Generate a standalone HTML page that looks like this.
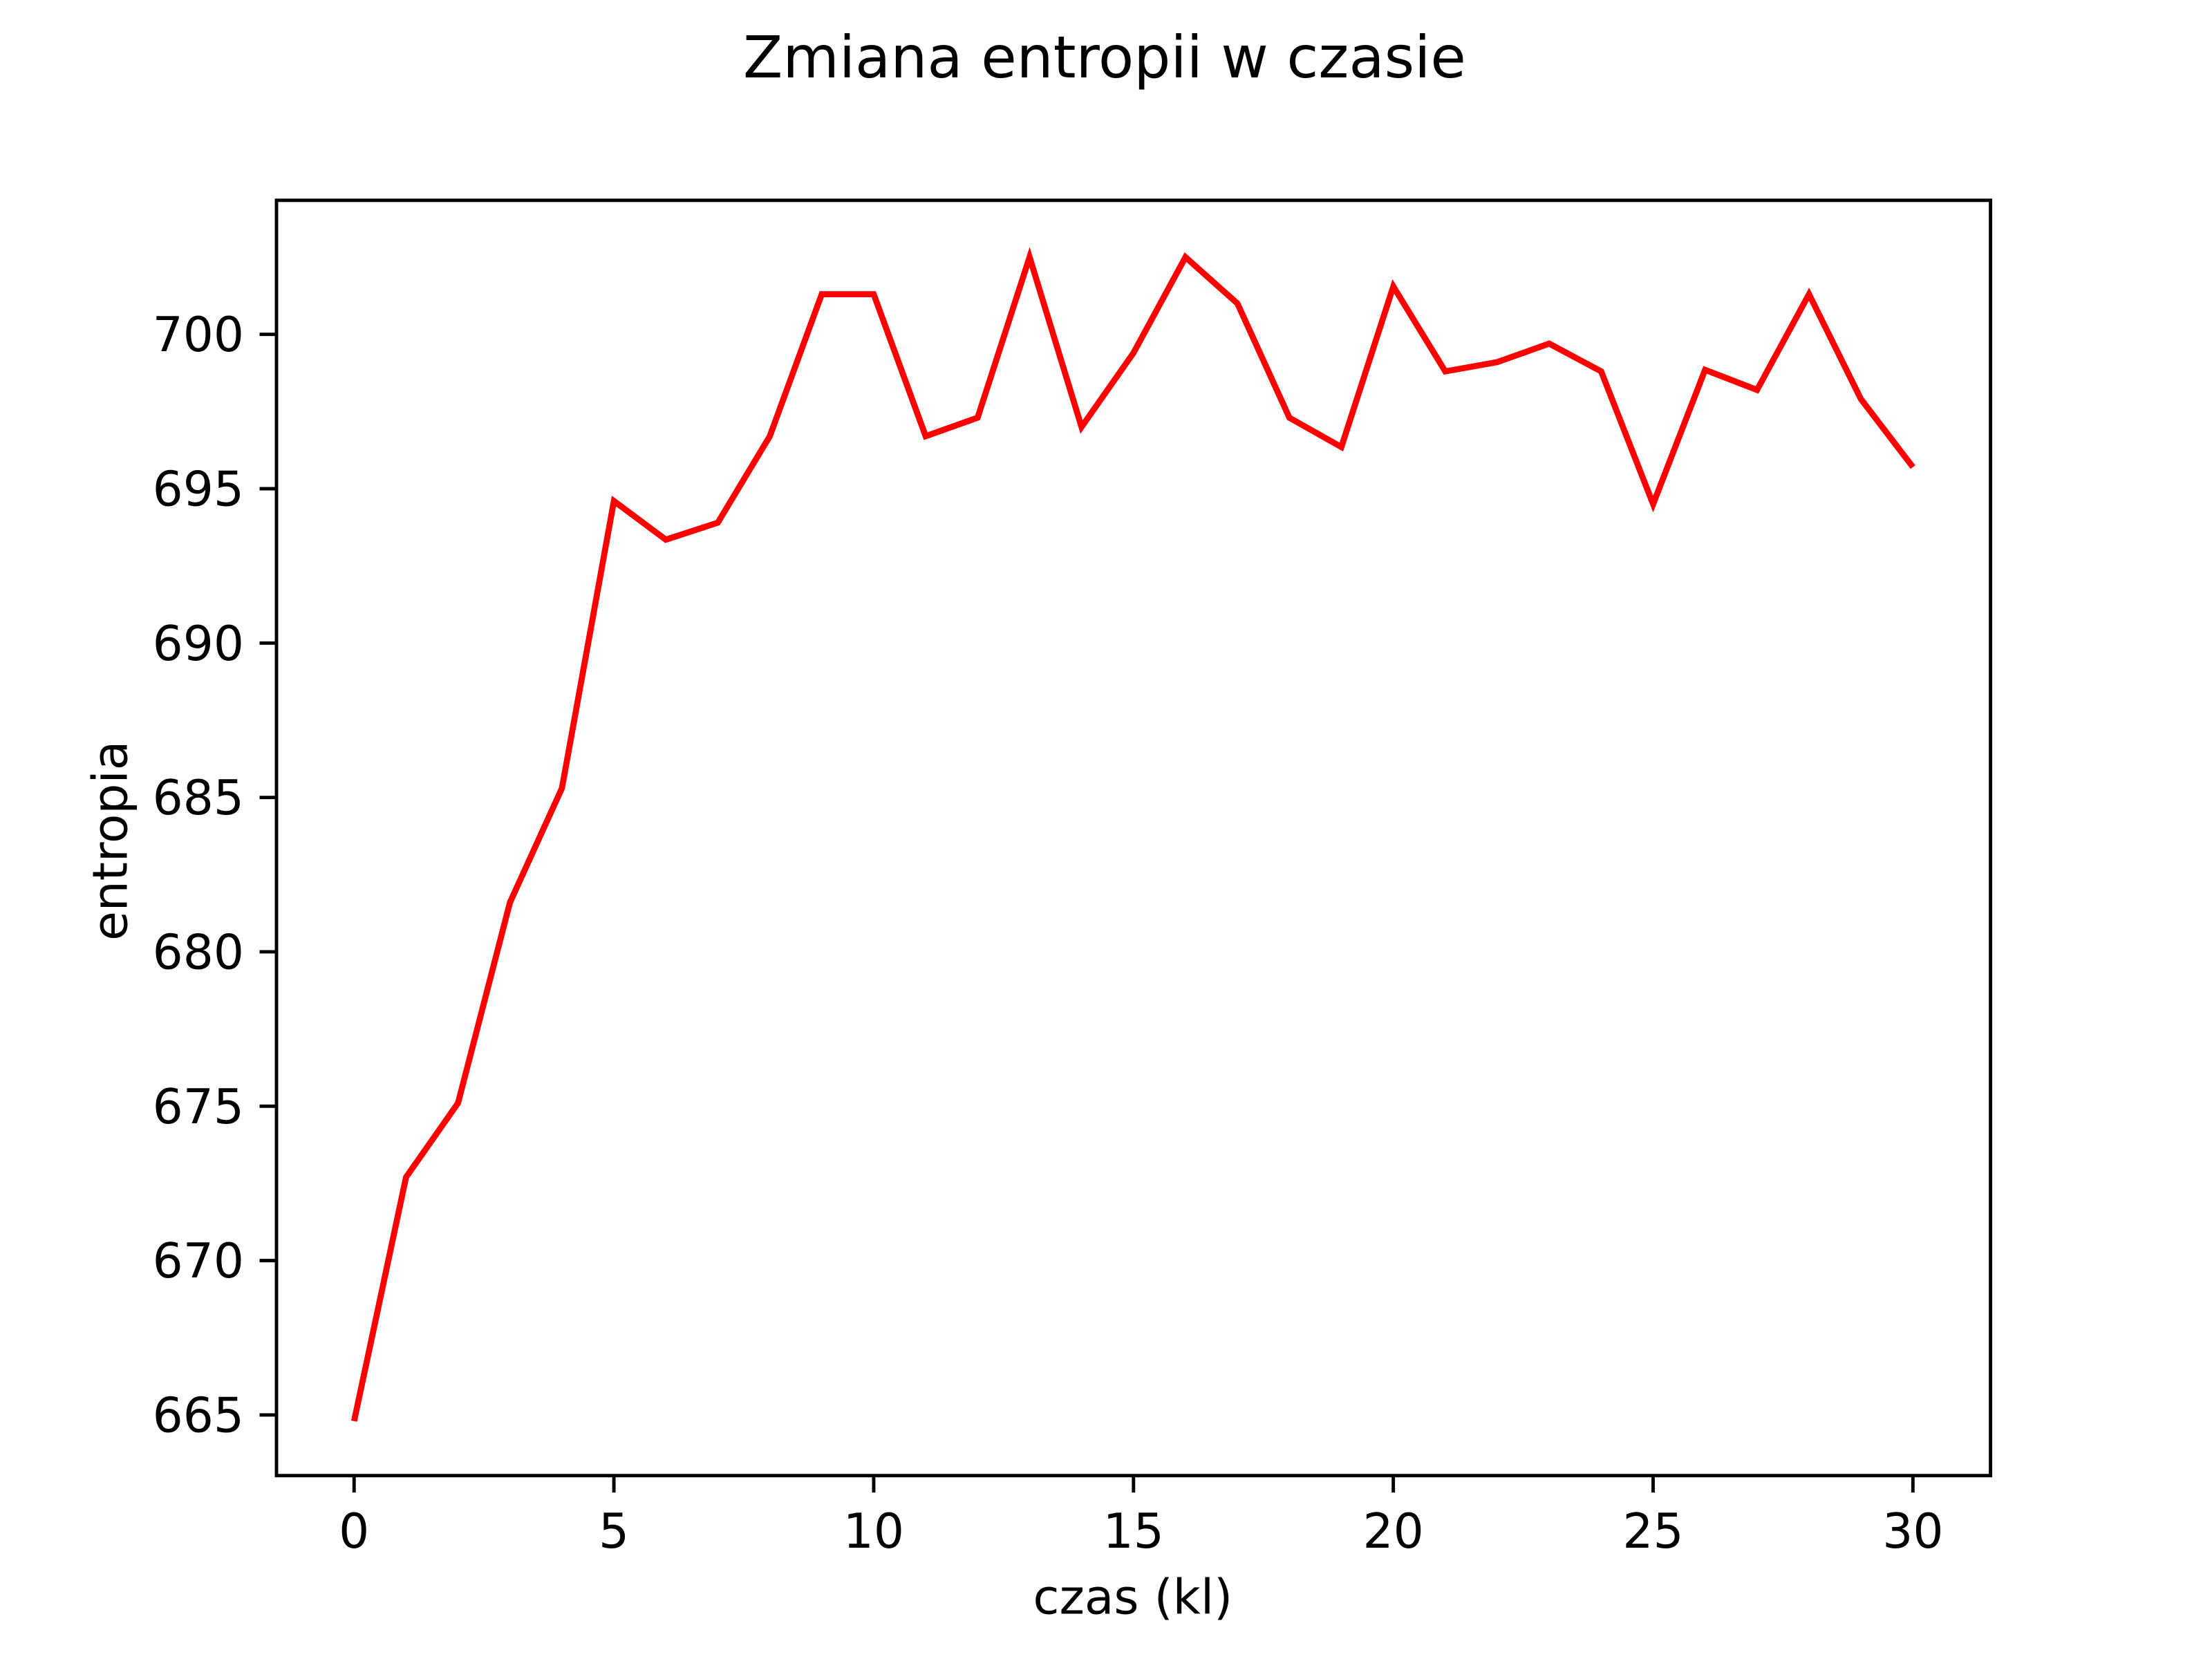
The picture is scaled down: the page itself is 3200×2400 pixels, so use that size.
<!DOCTYPE html>
<html><head><meta charset="utf-8"><style>
html,body{margin:0;padding:0;background:#fff;}
svg{display:block;}
text{font-family:"DejaVu Sans","Liberation Sans",sans-serif;fill:#000;}
</style></head><body>
<svg id="chart" width="3200" height="2400" viewBox="0 0 1568 1176" xmlns="http://www.w3.org/2000/svg">
<rect x="0" y="0" width="1568" height="1176" fill="#fff"/>
<text x="783" y="55" font-size="41" text-anchor="middle">Zmiana entropii w czasie</text>
<g id="plot"></g>
<g id="xticks"></g>
<g id="yticks"></g>
<rect x="196" y="142" width="1215" height="904" fill="none" stroke="#000" stroke-width="2.4"/>
<text x="803" y="1144" font-size="34" text-anchor="middle">czas (kl)</text>
<text x="0" y="0" font-size="34" text-anchor="middle" transform="translate(90,596) rotate(-90)">entropia</text>
</svg>
<script>
const times = [0,1,2,3,4,5,6,7,8,9,10,11,12,13,14,15,16,17,18,19,20,21,22,23,24,25,26,27,28,29,30];
const entropy = [664.8,672.7,675.1,681.6,685.3,694.6,693.35,693.9,696.7,701.3,701.3,696.7,697.3,702.5,697.0,699.4,702.5,701.0,697.3,696.35,701.55,698.8,699.1,699.7,698.8,694.5,698.85,698.2,701.3,697.9,695.7];
const xTicks = [0,5,10,15,20,25,30];
const yTicks = [665,670,675,680,685,690,695,700];

const NS = "http://www.w3.org/2000/svg";
function xs(v){ return 251 + (v - 0) * (1356 - 251) / 30; }
function ys(v){ return 237 + (700 - v) * (1003 - 237) / 35; }

const plot = document.getElementById('plot');
const pts = times.map((t,i)=> xs(t).toFixed(2)+','+ys(entropy[i]).toFixed(2)).join(' ');
const line = document.createElementNS(NS,'polyline');
line.setAttribute('points', pts);
line.setAttribute('fill','none');
line.setAttribute('stroke','#ff0000');
line.setAttribute('stroke-width','4.3');
line.setAttribute('stroke-linejoin','miter');


plot.appendChild(line);

const xg = document.getElementById('xticks');
xTicks.forEach(v=>{
  const l = document.createElementNS(NS,'line');
  l.setAttribute('x1', xs(v)); l.setAttribute('x2', xs(v));
  l.setAttribute('y1', 1046); l.setAttribute('y2', 1058);
  l.setAttribute('stroke','#000'); l.setAttribute('stroke-width','2.4');
  
  
  xg.appendChild(l);
  const t = document.createElementNS(NS,'text');
  t.setAttribute('x', xs(v)); t.setAttribute('y', 1097);
  t.setAttribute('font-size','34'); t.setAttribute('text-anchor','middle');
  t.textContent = v;
  
  
  xg.appendChild(t);
});
const yg = document.getElementById('yticks');
yTicks.forEach(v=>{
  const l = document.createElementNS(NS,'line');
  l.setAttribute('x1', 184); l.setAttribute('x2', 196);
  l.setAttribute('y1', ys(v)); l.setAttribute('y2', ys(v));
  l.setAttribute('stroke','#000'); l.setAttribute('stroke-width','2.4');
  
  
  yg.appendChild(l);
  const t = document.createElementNS(NS,'text');
  t.setAttribute('x', 173); t.setAttribute('y', ys(v) + 12);
  t.setAttribute('font-size','34'); t.setAttribute('text-anchor','end');
  t.textContent = v;
  
  
  yg.appendChild(t);
});
</script>
</body></html>
